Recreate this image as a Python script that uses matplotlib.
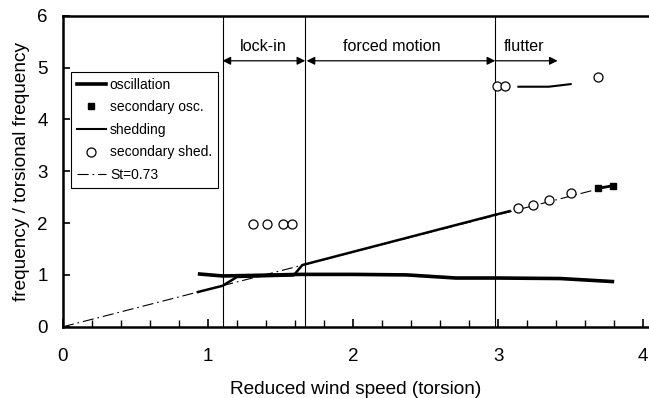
import matplotlib
matplotlib.use("Agg")
import matplotlib.pyplot as plt
from matplotlib.ticker import MultipleLocator
from matplotlib.lines import Line2D
import numpy as np

plt.rcParams['font.family'] = ['Liberation Sans', 'DejaVu Sans']

# oscillation (thick line)
osc_x = [0.93, 1.10, 1.30, 1.63, 2.00, 2.37, 2.71, 3.00, 3.43, 3.80]
osc_y = [1.02, 0.98, 0.99, 1.01, 1.01, 1.00, 0.94, 0.94, 0.93, 0.87]
# secondary oscillation (squares)
sec_osc_x = [3.69, 3.79]
sec_osc_y = [2.67, 2.72]
# shedding (line)
shed_x = [0.93, 1.10, 1.20, 1.59, 1.65, 1.91, 2.98, 3.08]
shed_y = [0.67, 0.79, 0.96, 0.99, 1.19, 1.38, 2.16, 2.23]
shed2_x = [3.14, 3.35, 3.50]
shed2_y = [4.63, 4.63, 4.68]
# secondary shedding (open circles)
sec_shed_x = [1.31, 1.41, 1.52, 1.58, 2.99, 3.05, 3.69, 3.14, 3.24, 3.35, 3.50]
sec_shed_y = [1.98, 1.98, 1.98, 1.98, 4.65, 4.65, 4.81, 2.30, 2.35, 2.45, 2.58]
# Strouhal line
st_slope = 0.72
st_x = [0.0, 3.80]

region_bounds = [1.10, 1.67, 2.98]
flutter_end = 3.41
region_labels = ["lock-in", "forced motion", "flutter"]

fig = plt.figure(figsize=(6.49, 3.98), dpi=100)
ax = fig.add_axes([0.097, 0.179, 0.903, 0.7816])

st_y = [st_slope * x for x in st_x]
ax.plot(st_x, st_y, color='black', lw=0.8, ls=(0, (10, 3.5, 1.5, 3.5)), zorder=2)

ax.plot(osc_x, osc_y, color='black', lw=2.6, solid_capstyle='butt', zorder=3)
ax.plot(shed_x, shed_y, color='black', lw=1.8, zorder=3)
ax.plot(shed2_x, shed2_y, color='black', lw=1.5, zorder=3)
ax.plot(sec_osc_x, sec_osc_y, color='black', lw=2.0, marker='s', ms=5, zorder=4)
ax.plot(sec_shed_x, sec_shed_y, ls='none', marker='o', ms=6.5, mfc='white',
        mec='black', mew=0.9, zorder=4)

for b in region_bounds:
    ax.plot([b, b], [0, 6], color='black', lw=0.8, zorder=1)

arrow_y = 5.13
aprops = dict(arrowstyle='<|-|>', color='black', lw=0.9, mutation_scale=12,
              shrinkA=0, shrinkB=0)
ax.annotate('', xy=(region_bounds[1], arrow_y), xytext=(region_bounds[0], arrow_y),
            arrowprops=aprops)
ax.annotate('', xy=(region_bounds[2], arrow_y), xytext=(region_bounds[1] + 0.01, arrow_y),
            arrowprops=aprops)
ax.annotate('', xy=(flutter_end, arrow_y), xytext=(region_bounds[2], arrow_y),
            arrowprops=dict(arrowstyle='-|>', color='black', lw=0.9,
                            mutation_scale=12, shrinkA=0, shrinkB=0))
label_x = [1.38, 2.27, 3.18]
for lx, t in zip(label_x, region_labels):
    ax.text(lx, 5.4, t, ha='center', va='center', fontsize=11.6)

ax.set_xlim(0, 4.04)
ax.set_ylim(0, 6)
ax.xaxis.set_major_locator(MultipleLocator(1))
ax.xaxis.set_minor_locator(MultipleLocator(0.2))
ax.yaxis.set_major_locator(MultipleLocator(1))
ax.tick_params(axis='x', which='major', direction='in', length=6, width=1.2,
               labelsize=13.5, pad=15, top=False)
ax.tick_params(axis='x', which='minor', direction='in', length=5, width=1.0, top=False)
ax.tick_params(axis='y', which='major', direction='in', length=5, width=1.2,
               labelsize=13.5, pad=11, right=False)
for s in ['left', 'bottom', 'top']:
    ax.spines[s].set_linewidth(1.8)
ax.spines['right'].set_visible(False)

ax.set_xlabel('Reduced wind speed (torsion)', fontsize=13.7, labelpad=12)
ax.set_ylabel('frequency / torsional frequency', fontsize=13.7, labelpad=5)

handles = [
    Line2D([], [], color='black', lw=2.6),
    Line2D([], [], ls='none', marker='s', color='black', ms=5),
    Line2D([], [], color='black', lw=1.5),
    Line2D([], [], ls='none', marker='o', mfc='white', mec='black', ms=6.5, mew=0.9),
    Line2D([], [], color='black', lw=0.8, ls=(0, (10, 3.5, 1.5, 3.5))),
]
labels = ['oscillation', 'secondary osc.', 'shedding', 'secondary shed.', 'St=0.73']
leg = ax.legend(handles, labels, loc='upper left', bbox_to_anchor=(0.0137, 0.819),
                fontsize=10, frameon=True, fancybox=False, edgecolor='black',
                framealpha=1, handlelength=2.1, handletextpad=0.3,
                labelspacing=0.62, borderpad=0.4, borderaxespad=0)
leg.get_frame().set_linewidth(0.8)

fig.savefig('out.png', dpi=100)
